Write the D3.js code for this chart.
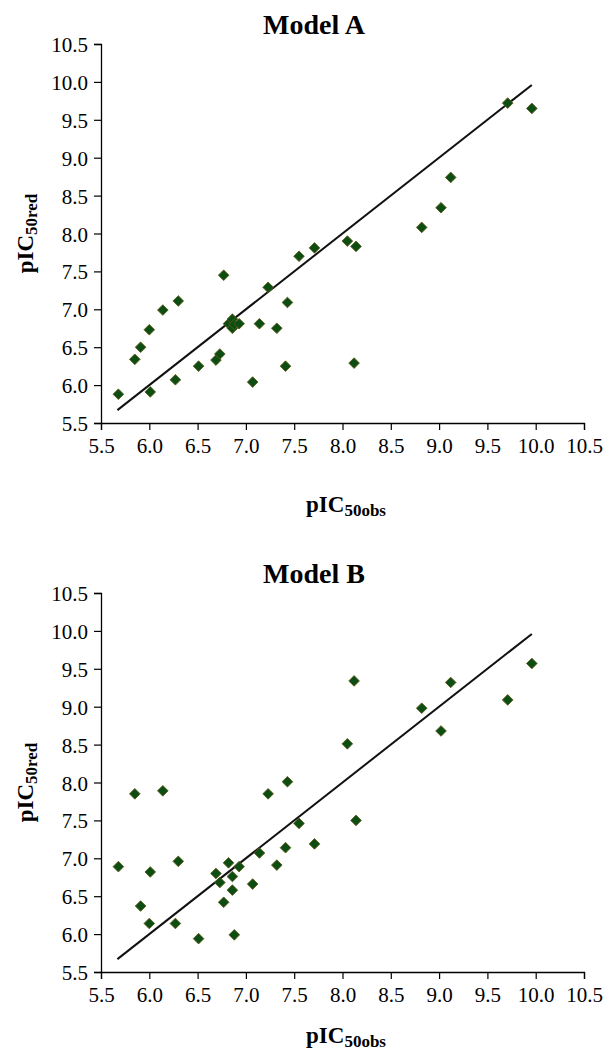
<!DOCTYPE html>
<html>
<head>
<meta charset="utf-8">
<script src="https://cdn.jsdelivr.net/npm/d3@7/dist/d3.min.js"></script>
<style>
  html, body { margin: 0; padding: 0; background: #fff; }
  svg { display: block; }
  text { font-family: "Liberation Serif", serif; fill: #000; }
</style>
</head>
<body>
<svg id="chart" width="605" height="1054"></svg>
<script>
// Observed activities (shared by both models)
const pIC50obs = [5.68, 5.85, 5.91, 6.00, 6.01, 6.14, 6.27, 6.30, 6.51, 6.69, 6.73,
  6.77, 6.82, 6.86, 6.86, 6.88, 6.93, 7.07, 7.14, 7.23, 7.32, 7.41, 7.43, 7.55,
  7.71, 8.05, 8.12, 8.14, 8.82, 9.02, 9.12, 9.71, 9.96];

// Predicted activities, Model A
const predModelA = [5.88, 6.34, 6.50, 6.73, 5.91, 6.99, 6.07, 7.11, 6.25, 6.33, 6.41,
  7.45, 6.81, 6.87, 6.75, 6.80, 6.81, 6.04, 6.81, 7.29, 6.75, 6.25, 7.09, 7.70,
  7.81, 7.90, 6.29, 7.83, 8.08, 8.34, 8.74, 9.72, 9.65];

// Predicted activities, Model B
const predModelB = [6.89, 7.85, 6.37, 6.14, 6.82, 7.89, 6.14, 6.96, 5.94, 6.80, 6.68,
  6.42, 6.94, 6.76, 6.58, 5.99, 6.89, 6.66, 7.07, 7.85, 6.91, 7.14, 8.01, 7.46,
  7.19, 8.51, 9.34, 7.50, 8.98, 8.68, 9.32, 9.09, 9.57];

// Reference line (observed = predicted) end points
const identityLine = [5.67, 9.96];

// Axis tick values (same on both axes)
const tickValues = [5.5, 6.0, 6.5, 7.0, 7.5, 8.0, 8.5, 9.0, 9.5, 10.0, 10.5];
const axisDomain = [5.5, 10.5];

const panels = [
  { title: "Model A", pred: predModelA, top: 44, xTitleGap: 89 },
  { title: "Model B", pred: predModelB, top: 593, xTitleGap: 71 }
];

const serif = "Liberation Serif";
const svg = d3.select("#chart");
const left = 101, right = 584, plotH = 379;

panels.forEach(p => {
  const g = svg.append("g");
  const x = d3.scaleLinear().domain(axisDomain).range([left, right]);
  const y = d3.scaleLinear().domain(axisDomain).range([p.top + plotH, p.top]);

  // Title
  g.append("text")
    .attr("x", 314).attr("y", p.top - 10)
    .attr("text-anchor", "middle")
    .style("font-size", "28px").style("font-weight", "bold")
    .text(p.title);

  // Axes
  const xAxis = d3.axisBottom(x).tickValues(tickValues)
    .tickFormat(d3.format(".1f")).tickSize(7).tickPadding(8);
  const yAxis = d3.axisLeft(y).tickValues(tickValues)
    .tickFormat(d3.format(".1f")).tickSize(7).tickPadding(6);

  const gx = g.append("g").attr("transform", `translate(0,${p.top + plotH})`).call(xAxis);
  const gy = g.append("g").attr("transform", `translate(${left},0)`).call(yAxis);
  [gx, gy].forEach(a => {
    a.attr("font-family", serif).attr("font-size", 21);
    a.select(".domain").attr("stroke", "#000").attr("stroke-width", 1.3);
    a.selectAll(".tick line").attr("stroke", "#000").attr("stroke-width", 1.2);
    a.selectAll(".tick text")
      .style("font-family", serif)
      .style("font-size", "21px").attr("fill", "#000");
  });
  gy.selectAll(".tick text").attr("dy", "0.36em");
  gx.selectAll(".tick text").attr("dy", "0.71em");

  // Identity line
  g.append("line")
    .attr("x1", x(identityLine[0])).attr("y1", y(identityLine[0]))
    .attr("x2", x(identityLine[1])).attr("y2", y(identityLine[1]))
    .attr("stroke", "#111").attr("stroke-width", 2);

  // Diamond markers
  const diamond = d3.symbol().type(d3.symbolDiamond2).size(72);
  g.append("g").selectAll("path")
    .data(pIC50obs.map((o, i) => [o, p.pred[i]]))
    .join("path")
    .attr("d", diamond)
    .attr("transform", d => `translate(${x(d[0])},${y(d[1])})`)
    .attr("fill", "#0b4d12")
    .attr("stroke", "#5c5a16")
    .attr("stroke-width", 0.9);

  // X axis title
  const xt = g.append("text")
    .attr("x", 346).attr("y", p.top + plotH + p.xTitleGap)
    .attr("text-anchor", "middle")
    .style("font-weight", "bold");
  xt.append("tspan").style("font-size", "23px").text("pIC");
  xt.append("tspan").style("font-size", "17px").attr("dy", 4).text("50obs");

  // Y axis title
  const yt = g.append("text")
    .attr("transform", `translate(33,${p.top + plotH / 2}) rotate(-90)`)
    .attr("text-anchor", "middle")
    .style("font-weight", "bold");
  yt.append("tspan").style("font-size", "23px").text("pIC");
  yt.append("tspan").style("font-size", "17px").attr("dy", 4).text("50red");
});
</script>
</body>
</html>
